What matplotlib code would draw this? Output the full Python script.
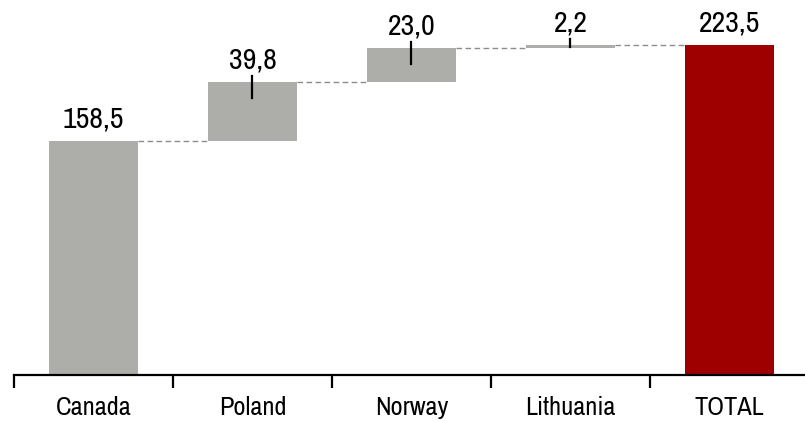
import matplotlib
matplotlib.use("Agg")
import matplotlib.pyplot as plt
import numpy as np

categories = ["Canada", "Poland", "Norway", "Lithuania", "TOTAL"]
values = [158.5, 39.8, 23.0, 2.2, 223.5]
is_total = [False, False, False, False, True]

plt.rcParams['font.family'] = ['Archivo Narrow', 'PT Sans Narrow', 'Liberation Sans', 'DejaVu Sans']

grey = "#adada9"
red = "#9e0000"

fig = plt.figure(figsize=(8.05, 4.21), dpi=100)
ax = fig.add_axes([14 / 805, 46 / 421, 791 / 805, 375 / 421])

x = np.arange(len(categories))
width = 0.555

# bottoms and tops of each bar (waterfall)
bottoms = []
tops = []
running = 0.0
for v, tot in zip(values, is_total):
    if tot:
        bottoms.append(0.0)
        tops.append(v)
    else:
        bottoms.append(running)
        running += v
        tops.append(running)

colors = [red if t else grey for t in is_total]
ax.bar(x, [t - b for t, b in zip(tops, bottoms)], bottom=bottoms, width=width,
       color=colors, edgecolor="none", zorder=2)

# dashed connectors between bars
for i in range(len(categories) - 1):
    ax.plot([x[i] + width / 2, x[i + 1] - width / 2], [tops[i], tops[i]],
            color="#8c8c8c", lw=1.0, ls=(0, (4, 2.5)), zorder=1)

# value labels and little leader marks
for i, v in enumerate(values):
    label = f"{v:.1f}".replace(".", ",")
    ax.text(x[i], tops[i] + 9, label, ha="center", va="baseline", fontsize=21.5, color="black")
    if i > 0 and not is_total[i]:
        centre = (tops[i] + bottoms[i]) / 2
        ax.plot([x[i], x[i]], [tops[i] + 4, max(centre, tops[i] - 10.5)],
                color="black", lw=1.6, zorder=3)

ax.set_xlim(-0.5, 4.475)
ax.set_ylim(0, 254)

for s in ["top", "right", "left"]:
    ax.spines[s].set_visible(False)
ax.spines["bottom"].set_linewidth(1.6)
ax.set_yticks([])

ax.set_xticks(np.arange(-0.5, 4.0, 1.0))
ax.set_xticklabels([])
ax.tick_params(axis="x", which="major", length=9, width=1.6, direction="out")
ax.set_xticks(x, minor=True)
ax.set_xticklabels(categories, minor=True, fontsize=19)
ax.tick_params(axis="x", which="minor", length=0, pad=15)

fig.savefig("out.png", dpi=100)
